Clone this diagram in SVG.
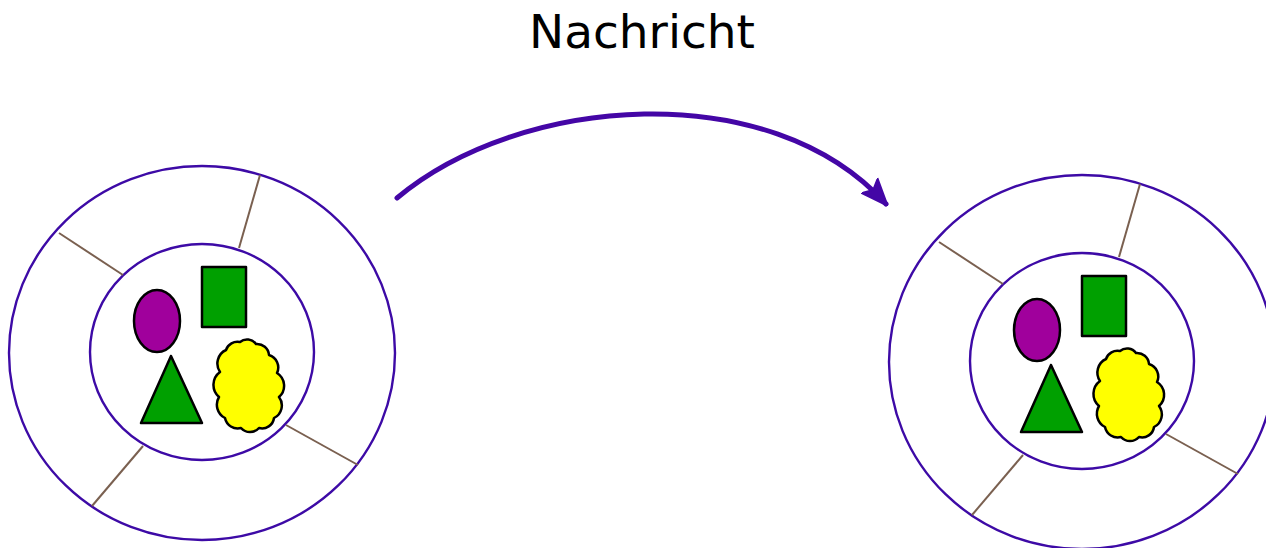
<svg xmlns="http://www.w3.org/2000/svg" xmlns:xlink="http://www.w3.org/1999/xlink" width="1266" height="548" viewBox="0 0 1266 548">
<style>
.ring{fill:none;stroke:#3d0aa6;stroke-width:2.4}
.spoke{stroke:#7a6050;stroke-width:2}
.sh{stroke:#000;stroke-width:2.5;stroke-linejoin:round}
.title{font-family:"DejaVu Sans",sans-serif;font-size:47px;fill:#000}
.conn{fill:none;stroke:#4406a6;stroke-width:5;stroke-linecap:round}
</style>
<defs>
<marker id="ah" viewBox="0 0 10 10" refX="9" refY="5" markerWidth="5.5" markerHeight="5.5" orient="auto" markerUnits="strokeWidth">
<path d="M0,1 L10,5 L0,9 L2,5 Z" fill="#4406a6" stroke="#4406a6" stroke-width="0.6" stroke-linejoin="round"/>
</marker>
<g id="cell">
<ellipse class="ring" cx="202" cy="353" rx="193" ry="187"/>
<ellipse class="ring" cx="202" cy="352" rx="112" ry="108"/>
<line class="spoke" x1="59" y1="233" x2="123" y2="275"/>
<line class="spoke" x1="260" y1="175" x2="239" y2="248"/>
<line class="spoke" x1="286" y1="425" x2="358" y2="465"/>
<line class="spoke" x1="143" y1="446" x2="92" y2="506"/>
<ellipse class="sh" cx="157" cy="321" rx="23" ry="31" fill="#a0009c"/>
<rect class="sh" x="202" y="267" width="44" height="60" fill="#00a000"/>
<polygon class="sh" points="171,356 141,423 202,423" fill="#00a000"/>
<path class="sh" fill="#ffff00" d="M226,350 A12 12 0 0 1 240,342 A11 11 0 0 1 256,344 A12 12 0 0 1 269,355 A13 13 0 0 1 277,373 A15 15 0 0 1 279,397 A14 14 0 0 1 274,418 A12 12 0 0 1 259,428 A12 12 0 0 1 241,428 A13 13 0 0 1 225,418 A15 15 0 0 1 219,397 A16 16 0 0 1 220,372 A15 15 0 0 1 226,350 Z"/>
</g>
</defs>
<text class="title" x="642" y="48" text-anchor="middle">Nachricht</text>
<g id="sender"><use xlink:href="#cell" href="#cell"/></g>
<g id="receiver"><use xlink:href="#cell" href="#cell" transform="translate(880,9)"/></g>
<g id="connectors">
<path class="conn" d="M397,198 C520,95 770,75 886,204" marker-end="url(#ah)"/>
</g>
</svg>
